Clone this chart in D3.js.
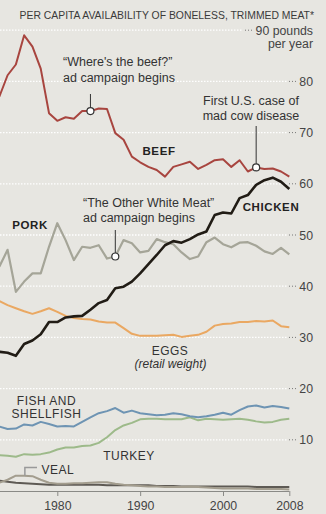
<!DOCTYPE html>
<html><head><meta charset="utf-8">
<script src="https://cdn.jsdelivr.net/npm/d3@7/dist/d3.min.js"></script>
<style>
body{margin:0;background:#e7e6e1;}
svg{display:block;font-family:"Liberation Sans",Arial,sans-serif;}
</style>
</head><body>
<svg id="chart" width="326" height="514"></svg>
<script>
const years = [1973,1974,1975,1976,1977,1978,1979,1980,1981,1982,1983,1984,1985,1986,1987,1988,1989,1990,1991,1992,1993,1994,1995,1996,1997,1998,1999,2000,2001,2002,2003,2004,2005,2006,2007,2008];
const beef = [77.0,81.2,83.3,89.0,86.8,82.5,73.8,72.3,73.0,72.7,74.2,74.2,74.7,74.6,69.9,68.6,65.3,64.2,63.3,62.7,61.4,63.3,63.8,64.3,62.9,63.7,64.6,64.8,63.3,64.6,62.4,63.2,62.9,63.0,62.4,61.4];
const chicken = [27.2,27.0,26.4,28.7,29.4,30.6,33.0,33.0,33.9,34.1,34.2,35.4,36.7,37.3,39.6,39.9,40.9,42.5,44.3,46.1,48.0,48.8,48.5,49.2,50.1,50.7,53.9,54.4,54.2,57.2,57.8,59.8,60.7,61.2,60.4,59.0];
const pork = [43.8,47.1,38.9,40.9,42.5,42.5,47.7,52.3,49.0,45.1,47.7,47.5,48.0,45.4,45.8,49.0,48.4,46.6,46.9,49.2,48.6,48.2,46.6,45.3,45.8,48.6,49.5,48.2,47.6,48.5,48.6,47.9,46.8,46.3,47.5,46.2];
const eggs = [37.1,36.3,35.7,35.1,34.6,35.1,35.7,35.0,34.2,33.8,33.6,33.5,33.1,32.9,32.9,31.8,30.7,30.3,30.3,30.3,30.4,30.5,30.1,30.3,30.5,31.1,32.3,32.6,32.7,33.0,33.0,33.2,33.1,33.3,32.2,32.0];
const fish = [12.6,12.1,12.2,13.0,12.8,13.5,13.1,12.6,12.7,12.6,13.5,14.4,15.2,15.6,16.2,15.3,15.7,15.2,15.0,14.8,14.9,15.2,15.0,14.6,14.4,14.6,14.9,15.3,14.9,15.8,16.5,16.7,16.3,16.6,16.4,16.1];
const turkey = [7.0,6.9,6.7,7.2,7.1,7.2,7.5,8.1,8.5,8.5,8.8,8.9,9.4,10.5,11.9,12.8,13.3,14.0,14.1,14.1,14.0,14.0,14.0,14.4,13.8,14.1,14.0,13.9,14.0,14.1,13.9,13.6,13.4,13.5,13.9,14.1];
const veal = [1.6,2.2,3.0,3.0,2.9,2.2,1.6,1.4,1.4,1.5,1.5,1.6,1.7,1.7,1.4,1.2,1.1,1.0,0.9,0.9,0.8,0.8,0.8,0.9,0.8,0.7,0.6,0.5,0.5,0.5,0.5,0.4,0.4,0.4,0.4,0.3];
const lamb = [2.0,1.8,1.6,1.5,1.4,1.3,1.2,1.2,1.2,1.2,1.2,1.2,1.2,1.1,1.1,1.1,1.1,1.1,1.1,1.0,1.0,1.0,0.9,0.9,0.9,0.9,0.9,0.9,0.9,0.9,0.9,0.8,0.8,0.8,0.8,0.8];
const yTicks = [10,20,30,40,50,60,70,80,90];
const xTicks = [1980,1990,2000,2008];
const events = [
  {series:"beef", year:1984, lines:["\u201cWhere's the beef?\u201d","ad campaign begins"]},
  {series:"pork", year:1987, lines:["\u201cThe Other White Meat\u201d","ad campaign begins"]},
  {series:"beef", year:2004, lines:["First U.S. case of","mad cow disease"]}
];

const svg = d3.select("#chart");
const x = d3.scaleLinear().domain([1973,2008]).range([-0.7,289.3]);
const y = d3.scaleLinear().domain([0,90]).range([491,30.2]);

// title
svg.append("text").attr("x",314).attr("y",18.5).attr("text-anchor","end")
  .attr("font-size",10.4).attr("fill","#3a3a3a")
  .text("PER CAPITA AVAILABILITY OF BONELESS, TRIMMED MEAT*");

// gridlines + right labels
yTicks.forEach(t=>{
  const yy = y(t);
  const endWhite = t===90 ? 243 : 287;
  svg.append("line").attr("x1",0).attr("x2",endWhite).attr("y1",yy).attr("y2",yy)
    .attr("stroke","#ffffff").attr("stroke-width",1.3).attr("stroke-dasharray","1.5,1.5");
  svg.append("line").attr("x1",endWhite+2).attr("x2",endWhite+11).attr("y1",yy).attr("y2",yy)
    .attr("stroke","#777").attr("stroke-width",1).attr("stroke-dasharray","1,2");
  const lab = svg.append("text").attr("x",313).attr("y",yy+4.5).attr("text-anchor","end")
    .attr("font-size",12.3).attr("fill","#444");
  if(t===90){
    lab.text("90 pounds");
    svg.append("text").attr("x",313).attr("y",yy+17.5).attr("text-anchor","end")
      .attr("font-size",12.3).attr("fill","#444").text("per year");
  } else lab.text(t);
});

// x axis
const xAxis = svg.append("g").attr("transform","translate(0,491)")
  .call(d3.axisBottom(x).tickValues(xTicks).tickFormat(d3.format("d")).tickSize(5).tickSizeOuter(0));
xAxis.select(".domain").attr("stroke","#8a8a86").attr("d","M0,0.5H289.3");
xAxis.selectAll(".tick line").attr("stroke","#8a8a86");
xAxis.selectAll(".tick text").attr("font-size",12.3).attr("fill","#444").attr("y",18.5).attr("dy",0)
  .attr("font-family","Liberation Sans,Arial,sans-serif");

const series = [
  {key:"lamb", vals:lamb, color:"#5e5a54", w:2},
  {key:"veal", vals:veal, color:"#a39d8e", w:2},
  {key:"turkey", vals:turkey, color:"#9dba8a", w:2},
  {key:"fish", vals:fish, color:"#6e94b3", w:2},
  {key:"eggs", vals:eggs, color:"#eaa862", w:2},
  {key:"pork", vals:pork, color:"#a5a598", w:2.2},
  {key:"chicken", vals:chicken, color:"#211c15", w:2.6},
  {key:"beef", vals:beef, color:"#a8453f", w:2}
];
const byKey = {};
series.forEach(s=>byKey[s.key]=s);
const line = d3.line().x((d,i)=>x(years[i])).y(d=>y(d));
svg.append("defs").append("clipPath").attr("id","clip").append("rect")
  .attr("x",0).attr("y",0).attr("width",326).attr("height",514);
const gl = svg.append("g").attr("clip-path","url(#clip)");
series.forEach(s=>{
  gl.append("path").datum(s.vals).attr("d",line).attr("fill","none")
    .attr("stroke",s.color).attr("stroke-width",s.w).attr("stroke-linejoin","round");
});

// event annotations
const evPos = [
  {tx:63, ty:[66,82], anchor:"start", top:94},
  {tx:83, ty:[207,222], anchor:"start", top:230},
  {tx:251, ty:[105,120], anchor:"middle", top:126}
];
events.forEach((e,i)=>{
  const p = evPos[i];
  const cx = x(e.year), cy = y(byKey[e.series].vals[years.indexOf(e.year)]);
  svg.append("line").attr("x1",cx).attr("x2",cx).attr("y1",p.top).attr("y2",cy-3.5)
    .attr("stroke","#333").attr("stroke-width",1);
  svg.append("circle").attr("cx",cx).attr("cy",cy).attr("r",3.5)
    .attr("fill","#fff").attr("stroke","#333").attr("stroke-width",1.2);
  e.lines.forEach((l,j)=>{
    svg.append("text").attr("x",p.tx).attr("y",p.ty[j]).attr("text-anchor",p.anchor)
      .attr("font-size",12.5).attr("fill","#333").text(l);
  });
});

// series labels
const bold = [["BEEF",159,155],["PORK",30,228.5],["CHICKEN",271,210.5]];
bold.forEach(b=>{
  svg.append("text").attr("x",b[1]).attr("y",b[2]).attr("text-anchor","middle")
    .attr("font-size",11.5).attr("font-weight","bold").attr("letter-spacing",0.6)
    .attr("fill","#222").text(b[0]);
});
const plain = [["EGGS",170,354.5],["FISH AND",46.5,404.5],["SHELLFISH",46.5,418],["TURKEY",129,460]];
plain.forEach(b=>{
  svg.append("text").attr("x",b[1]).attr("y",b[2]).attr("text-anchor","middle")
    .attr("font-size",12).attr("letter-spacing",0.5).attr("fill","#333").text(b[0]);
});
svg.append("text").attr("x",170.5).attr("y",368).attr("text-anchor","middle")
  .attr("font-size",12).attr("font-style","italic").attr("fill","#333").text("(retail weight)");
// veal label with leader
const vx = x(1975)+9, vy = y(veal[2]);
svg.append("path").attr("d",`M${vx},${vy}V467.5H37`).attr("fill","none").attr("stroke","#999").attr("stroke-width",1.5);
svg.append("text").attr("x",41.5).attr("y",473.5).attr("font-size",12).attr("letter-spacing",0.5)
  .attr("fill","#333").text("VEAL");
</script>
</body></html>
